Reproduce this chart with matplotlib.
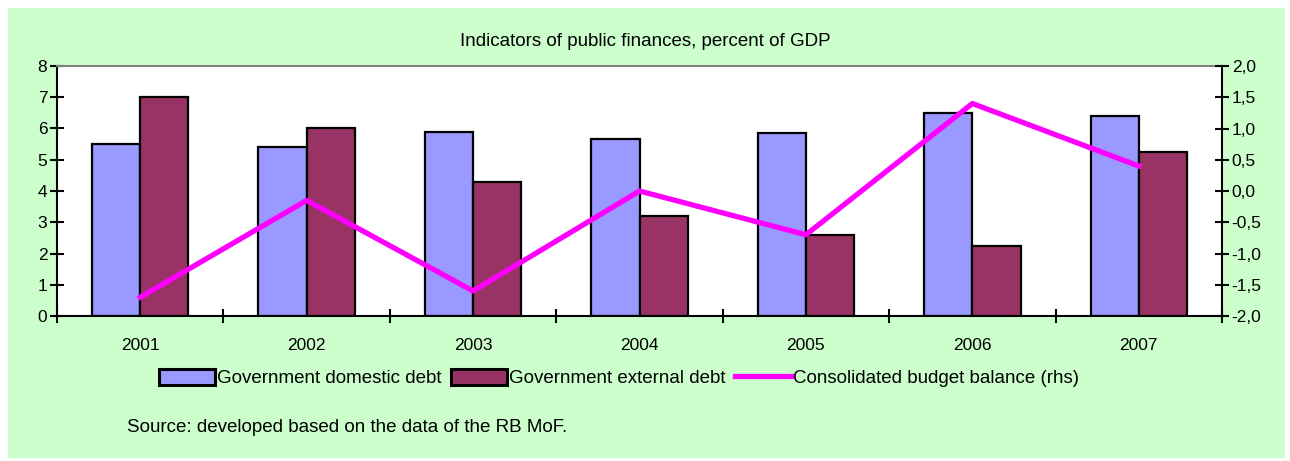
import matplotlib
matplotlib.use("Agg")
import matplotlib.pyplot as plt
import numpy as np
from matplotlib.patches import Rectangle
from matplotlib.ticker import FuncFormatter

# --- data ---
years = ['2001', '2002', '2003', '2004', '2005', '2006', '2007']
domestic_debt = [5.5, 5.4, 5.9, 5.65, 5.85, 6.5, 6.4]
external_debt = [7.0, 6.0, 4.3, 3.2, 2.6, 2.25, 5.25]
budget_balance = [-1.7, -0.15, -1.6, 0.0, -0.7, 1.4, 0.4]

plt.rcParams['font.family'] = ['Liberation Sans', 'DejaVu Sans']

fig = plt.figure(figsize=(12.9, 4.61), dpi=100)
fig.patch.set_facecolor('white')
# green chart area
fig.patches.append(Rectangle((8 / 1290, 3 / 461), 1277 / 1290, 450 / 461,
                             transform=fig.transFigure, facecolor='#CCFFCC',
                             edgecolor='none', zorder=-1))

ax = fig.add_axes([57 / 1290, 1 - 316 / 461, 1165 / 1290, 250 / 461])
ax.set_facecolor('white')

x = np.arange(len(years))
w = 0.29
ax.bar(x - w / 2, domestic_debt, w, color='#9999FF', edgecolor='black', linewidth=1.6,
       label='Government domestic debt', zorder=2)
ax.bar(x + w / 2, external_debt, w, color='#993366', edgecolor='black', linewidth=1.6,
       label='Government external debt', zorder=2)

ax.set_xlim(-0.5, len(years) - 0.5)
ax.set_ylim(0, 8)
ax.set_yticks(range(0, 9))
ax.set_xticks(np.arange(-0.5, len(years) + 0.5, 1))
ax.set_xticklabels([])
ax.set_xticks(x, minor=True)
ax.set_xticklabels(years, minor=True, fontsize=12.5)
ax.tick_params(axis='x', which='minor', length=0, pad=16)
ax.tick_params(axis='x', which='major', direction='inout', length=10, width=1.5)
ax.tick_params(axis='y', direction='inout', length=10, width=1.5, labelsize=12.5, pad=2)

for s in ['left', 'bottom']:
    ax.spines[s].set_linewidth(1.5)
ax.spines['top'].set_color('#808080')
ax.spines['top'].set_linewidth(1.5)
ax.spines['right'].set_visible(False)

ax2 = ax.twinx()
ax2.plot(x, budget_balance, color='#FF00FF', linewidth=3.8,
         label='Consolidated budget balance (rhs)', zorder=3)
ax2.set_ylim(-2, 2)
ax2.set_yticks(np.arange(-2, 2.01, 0.5))
ax2.yaxis.set_major_formatter(FuncFormatter(lambda v, p: f'{v:.1f}'.replace('.', ',')))
ax2.tick_params(axis='y', direction='inout', length=10, width=1.5, labelsize=12.5, pad=2)
for s in ['left', 'bottom', 'top']:
    ax2.spines[s].set_visible(False)
ax2.spines['right'].set_linewidth(1.5)

fig.text(0.5, 1 - 42 / 461, 'Indicators of public finances, percent of GDP',
         ha='center', va='center', fontsize=13.5)

h1, l1 = ax.get_legend_handles_labels()
h2, l2 = ax2.get_legend_handles_labels()
leg = fig.legend(h1 + h2, l1 + l2, loc='center', bbox_to_anchor=(0.48, 1 - 378 / 461),
                 ncol=3, frameon=False, fontsize=13.5, handlelength=3, handleheight=1.0,
                 handletextpad=0.1, columnspacing=0.5)
for p in leg.get_patches():
    p.set_linewidth(2.2)

fig.text(127 / 1290, 1 - 427 / 461, 'Source: developed based on the data of the RB MoF.',
         ha='left', va='center', fontsize=13.5)

fig.savefig('out.png', dpi=100, facecolor=fig.get_facecolor())
